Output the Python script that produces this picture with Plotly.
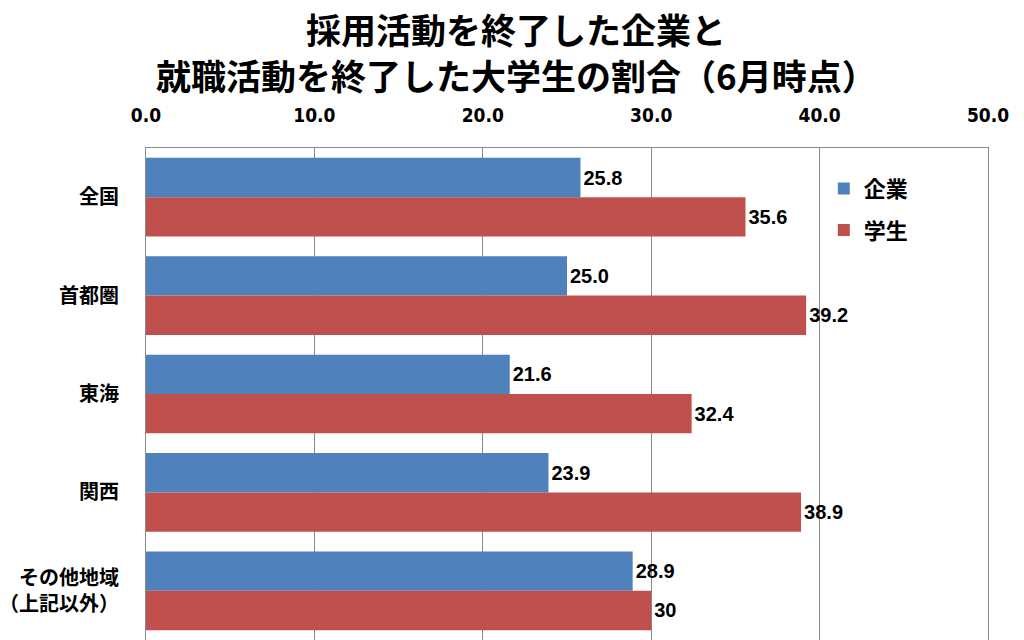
import plotly.graph_objects as go

categories = ["全国", "首都圏", "東海", "関西", "その他地域<br>（上記以外）"]
kigyo = [25.8, 25.0, 21.6, 23.9, 28.9]
gakusei = [35.6, 39.2, 32.4, 38.9, 30]
kigyo_labels = ["25.8", "25.0", "21.6", "23.9", "28.9"]
gakusei_labels = ["35.6", "39.2", "32.4", "38.9", "30"]
tick_vals = [0, 10, 20, 30, 40, 50]
tick_text = ["0.0", "10.0", "20.0", "30.0", "40.0", "50.0"]

CJK = "Noto Sans CJK JP"
label_font = dict(family="Liberation Sans, Arial", size=20, color="black")

fig = go.Figure()
fig.add_trace(go.Bar(
    y=categories, x=kigyo, name="<b>企業</b>", orientation="h",
    marker=dict(color="#4F81BD", line=dict(width=0)),
    text=["<b>%s</b>" % t for t in kigyo_labels], textposition="outside",
    textfont=label_font, cliponaxis=False, legendgroup="a",
))
fig.add_trace(go.Bar(
    y=categories, x=gakusei, name="<b>学生</b>", orientation="h",
    marker=dict(color="#C0504D", line=dict(width=0)),
    text=["<b>%s</b>" % t for t in gakusei_labels], textposition="outside",
    textfont=label_font, cliponaxis=False, legendgroup="b",
))

fig.update_layout(
    width=1024, height=640,
    margin=dict(l=146, r=36, t=148, b=0),
    paper_bgcolor="white", plot_bgcolor="white",
    barmode="group", bargap=0.2, bargroupgap=0,
    font=dict(family=CJK, color="black"),
    showlegend=True,
    legend=dict(
        x=0.805, y=0.96, xanchor="left", yanchor="top",
        font=dict(family=CJK, size=22, color="black"),
        traceorder="grouped", tracegroupgap=10,
        bgcolor="rgba(0,0,0,0)",
    ),
    xaxis=dict(
        side="top", range=[0, 50], tickvals=tick_vals, ticktext=tick_text,
        showgrid=True, gridcolor="#8a8a8a", gridwidth=1,
        showline=True, linecolor="#8a8a8a", linewidth=1, mirror=True,
        ticks="", ticklabelstandoff=17, zeroline=False, automargin=False,
        tickfont=dict(family="Liberation Sans Narrow, DejaVu Sans Condensed", size=19, color="black", weight="bold"),
    ),
    yaxis=dict(
        autorange="reversed", showgrid=False,
        showline=True, linecolor="#8a8a8a", linewidth=1, mirror=True,
        ticks="", ticklabelstandoff=22, automargin=False,
        tickfont=dict(family=CJK, size=20, color="black", weight="bold"),
    ),
    annotations=[
        dict(text="<b>採用活動を終了した企業と</b>", x=0.5, y=28, xref="paper", yref="paper",
             showarrow=False, font=dict(family=CJK, size=35, color="black")),
        dict(text="<b>就職活動を終了した大学生の割合（6月時点）</b>", x=0.5, y=75, xref="paper", yref="paper",
             showarrow=False, font=dict(family=CJK, size=35, color="black")),
    ],
)

plot_h = 640 - 148
for ann, py in zip(fig.layout.annotations, [28, 75]):
    ann.y = (640 - py) / plot_h
    ann.yanchor = "middle"
    ann.x = (516 - 146) / (1024 - 146 - 36)
    ann.xanchor = "center"

fig.write_html("out.html")
